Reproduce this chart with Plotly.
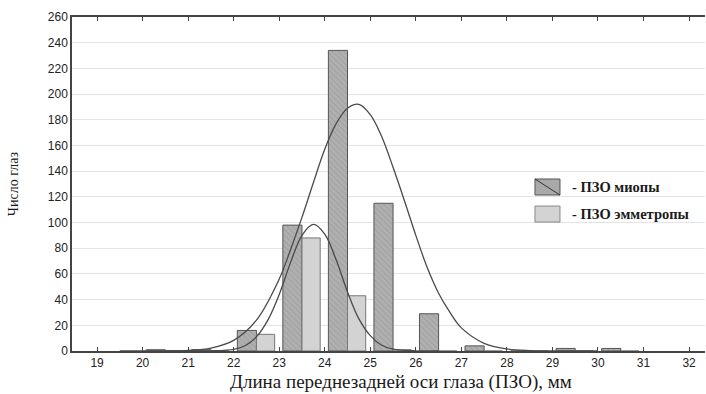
import plotly.graph_objects as go

# Bins (lower edge of each 1-mm bin)
bins = [20, 21, 22, 23, 24, 25, 26, 27, 28, 29, 30]
myopia_counts = [1, 1, 16, 98, 234, 115, 29, 4, 0, 2, 2]
emmetropia_counts = [0, 0, 13, 88, 43, 1, 0, 0, 0, 0, 0]

# Fitted curves, values
myopia_curve_x = [19.5, 20.0, 20.5, 21.0, 21.5, 22.0, 22.5, 23.0, 23.25, 23.5, 23.75, 24.0,
                  24.25, 24.5, 24.75, 25.0, 25.25, 25.5, 25.75, 26.0, 26.25, 26.5, 26.75,
                  27.0, 27.5, 28.0, 28.5, 29.0, 30.0]
myopia_curve_y = [0, 0.01, 0.1, 0.5, 2.3, 8.3, 24, 56, 79, 104, 131, 157,
                  177, 189, 192, 184, 167, 143, 117, 90, 65, 45, 30,
                  18, 6, 1.6, 0.3, 0.05, 0]

emm_curve_x = [20.5, 21.0, 21.5, 22.0, 22.25, 22.5, 22.75, 23.0, 23.25, 23.5, 23.75, 24.0,
               24.25, 24.5, 24.75, 25.0, 25.25, 25.5, 26.0, 26.5]
emm_curve_y = [0, 0.01, 0.1, 1.3, 4.1, 11, 24, 44, 69, 90, 98.5, 91,
               71, 46, 25, 12, 4.5, 1.5, 0.1, 0]

x_ticks = list(range(19, 33))
y_ticks = list(range(0, 261, 20))

legend_labels = ["- ПЗО миопы", "- ПЗО эмметропы"]
x_title = "Длина переднезадней оси глаза (ПЗО), мм"
y_title = "Число глаз"

MYO_FILL = "#a9a9a9"
EMM_FILL = "#d3d3d3"
SERIF = "Liberation Serif, Times New Roman, serif"

fig = go.Figure()

fig.add_trace(go.Bar(
    x=bins, y=myopia_counts, offset=0.08, width=0.42,
    name=legend_labels[0], showlegend=False,
    marker=dict(color=MYO_FILL,
                line=dict(color="#555555", width=1),
                pattern=dict(shape="\\", fgcolor="#8c8c8c", bgcolor="#b0b0b0",
                             size=4, solidity=0.25)),
))
fig.add_trace(go.Bar(
    x=bins, y=emmetropia_counts, offset=0.5, width=0.4,
    name=legend_labels[1], showlegend=False,
    marker=dict(color=EMM_FILL, line=dict(color="#777777", width=1)),
))
fig.add_trace(go.Scatter(
    x=myopia_curve_x, y=myopia_curve_y, mode="lines", line_shape="spline",
    line=dict(color="#4a4a4a", width=1.3), showlegend=False, hoverinfo="skip",
))
fig.add_trace(go.Scatter(
    x=emm_curve_x, y=emm_curve_y, mode="lines", line_shape="spline",
    line=dict(color="#4a4a4a", width=1.3), showlegend=False, hoverinfo="skip",
))

# Custom legend (boxes + labels) in paper coordinates
shapes = [
    dict(type="rect", xref="paper", yref="paper", x0=0.7314, x1=0.7709, y0=0.467, y1=0.515,
         fillcolor=MYO_FILL, line=dict(color="#555555", width=1)),
    dict(type="line", xref="paper", yref="paper", x0=0.7314, x1=0.7709, y0=0.515, y1=0.467,
         line=dict(color="#333333", width=1)),
    dict(type="rect", xref="paper", yref="paper", x0=0.7314, x1=0.7709, y0=0.386, y1=0.434,
         fillcolor=EMM_FILL, line=dict(color="#888888", width=1)),
]
annotations = [
    dict(text="<b>" + legend_labels[0] + "</b>", xref="paper", yref="paper", x=0.786, y=0.491,
         xanchor="left", yanchor="middle", showarrow=False,
         font=dict(family=SERIF, size=14.5, color="#1a1a1a")),
    dict(text="<b>" + legend_labels[1] + "</b>", xref="paper", yref="paper", x=0.786, y=0.410,
         xanchor="left", yanchor="middle", showarrow=False,
         font=dict(family=SERIF, size=14.5, color="#1a1a1a")),
    dict(text=y_title, textangle=-90, xref="paper", yref="paper",
         x=-0.093, y=0.5, xanchor="center", yanchor="middle", showarrow=False,
         font=dict(family=SERIF, size=14, color="#1a1a1a")),
    dict(text=x_title, xref="paper", yref="paper",
         x=0.52, y=-0.093, xanchor="center", yanchor="middle", showarrow=False,
         font=dict(family=SERIF, size=19, color="#1a1a1a")),
]

fig.update_layout(
    width=706, height=394,
    margin=dict(l=72, r=1, t=17, b=43),
    plot_bgcolor="white", paper_bgcolor="white",
    barmode="overlay", showlegend=False,
    font=dict(family="Liberation Sans, Arial, sans-serif", size=12, color="#222222"),
    xaxis=dict(range=[18.45, 32.35], tickmode="array", tickvals=x_ticks,
               ticktext=[str(v) for v in x_ticks],
               showgrid=False, zeroline=False,
               showline=True, linecolor="#444444", linewidth=1.5, mirror="ticks",
               ticks="inside", ticklen=4, tickcolor="#444444",
               tickfont=dict(size=12, color="#222222")),
    yaxis=dict(range=[0, 260], tickmode="array", tickvals=y_ticks,
               showgrid=True, gridcolor="#e4e4e4", gridwidth=1,
               zeroline=False, showline=True, linecolor="#444444", linewidth=1.5,
               ticks="", tickfont=dict(size=12, color="#222222")),
    shapes=shapes,
    annotations=annotations,
)

fig.write_html("out.html", config={"displayModeBar": False},
               post_script="document.body.style.margin='0';document.body.style.overflow='hidden';")
